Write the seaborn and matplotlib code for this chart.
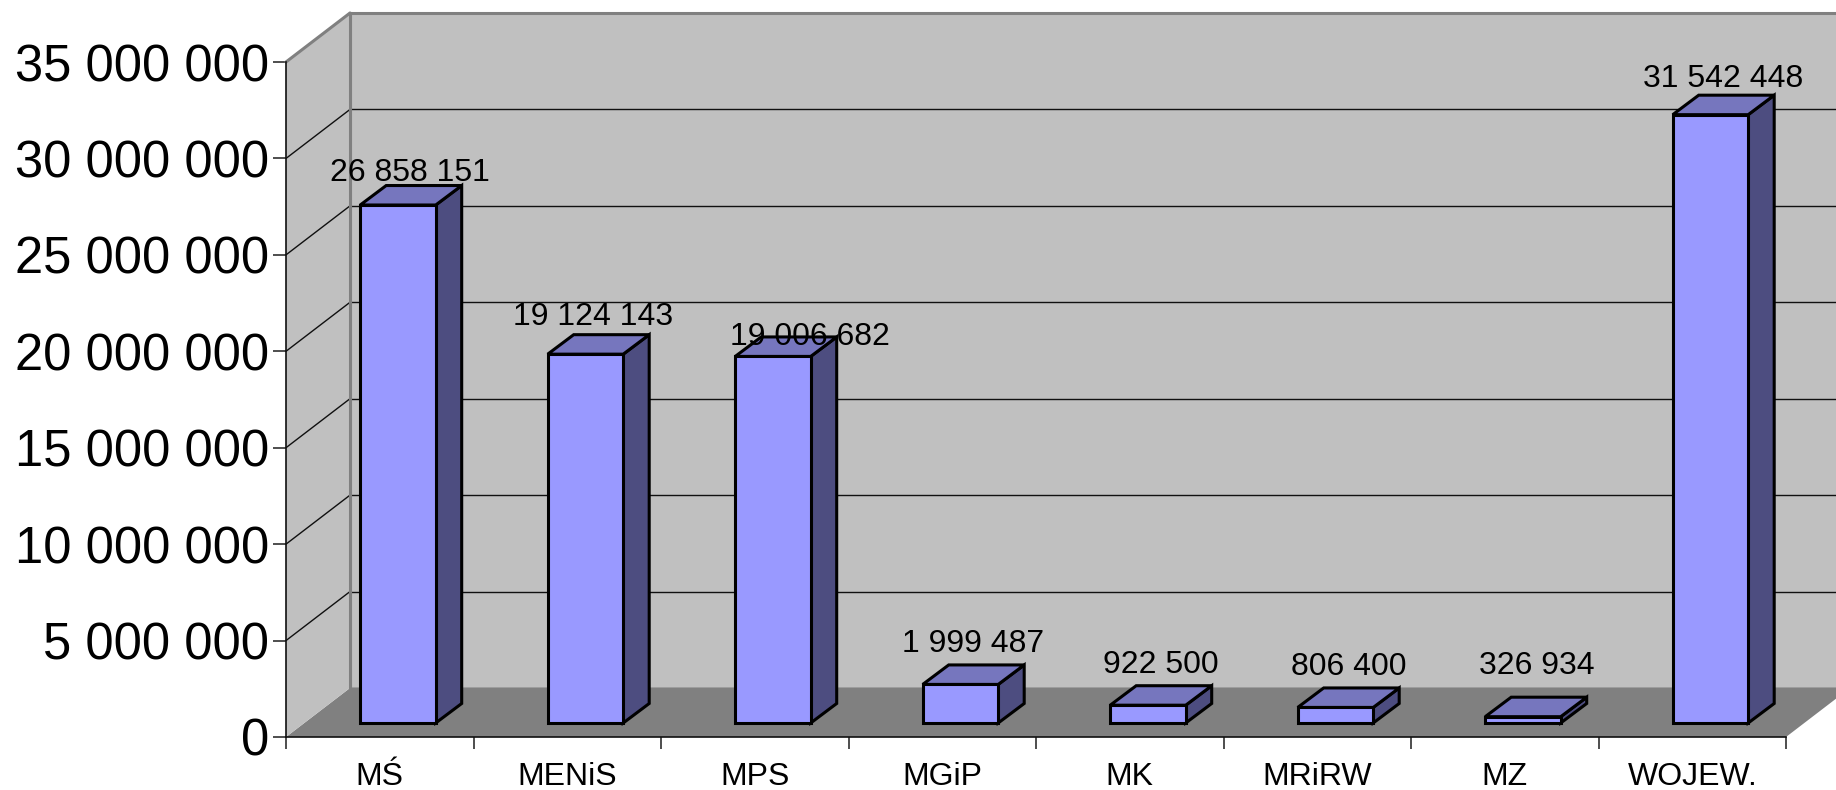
import matplotlib
matplotlib.use("Agg")
import matplotlib.pyplot as plt
import pandas as pd
import seaborn as sns
from matplotlib.patches import Polygon
from matplotlib.lines import Line2D
from matplotlib.ticker import FuncFormatter, MultipleLocator

categories = ["MŚ", "MENiS", "MPS", "MGiP", "MK", "MRiRW", "MZ", "WOJEW."]
values = [26858151, 19124143, 19006682, 1999487, 922500, 806400, 326934, 31542448]
y_max = 35000000
y_step = 5000000

# label nudges from the bar's top front edge, in pixels (x right, y up)
label_dx = [12, 8, 37, 13, 13, 13, 14, 13]
label_dy = [32, 37, 19, 40, 40, 40, 51, 36]

W, H = 1836, 790
LEFT, BOTTOM = 286, 737          # front corner of the chart box, image pixels
BOX_W, BOX_H = 1500, 675
DEPTH_X, DEPTH_Y = 64, 49        # whole box depth
BAR_X, BAR_Y = 18.2, 14          # where the bars stand inside the box
BAR_DX, BAR_DY = 26, 19.5        # bar depth
BAR_WIDTH = 75.5 / 187.5

sns.set_theme(style="white")
plt.rcParams["font.family"] = ["Liberation Sans", "DejaVu Sans"]

fmt = lambda v, pos=None: f"{int(v):,}".replace(",", " ")


def add_plane(dx, dy, z):
    """Axes for one depth plane of the fake 3D box."""
    ax = fig.add_axes([(LEFT + dx) / W, (H - BOTTOM + dy) / H, BOX_W / W, BOX_H / H], zorder=z)
    ax.set_xlim(-0.5, len(categories) - 0.5)
    ax.set_ylim(0, y_max)
    return ax


def poly(ax, pts, face, edge="none", lw=0, z=1):
    ax.add_patch(Polygon(pts, closed=True, facecolor=face, edgecolor=edge, linewidth=lw,
                         transform=None, clip_on=False, zorder=z, joinstyle="miter"))


fig = plt.figure(figsize=(W / 100, H / 100), dpi=100, facecolor="white")

# back wall, with the gridlines
back = add_plane(DEPTH_X, DEPTH_Y, 0)
back.set_facecolor("#C0C0C0")
back.yaxis.set_major_locator(MultipleLocator(y_step))
back.grid(axis="y", color="#101010", linewidth=1)
back.tick_params(left=False, bottom=False, labelleft=False, labelbottom=False)
for name, spine in back.spines.items():
    spine.set_visible(name in ("left", "top"))
    spine.set_color("#808080")
    spine.set_linewidth(2.2)

# front plane holds the real ticks, the side wall and the floor
front = add_plane(0, 0, 1)
front.patch.set_alpha(0)
x0, y0 = front.transData.transform((-0.5, 0))
x1, y1 = front.transData.transform((len(categories) - 0.5, y_max))
poly(front, [(x0, y0), (x1, y0), (x1 + DEPTH_X, y0 + DEPTH_Y), (x0 + DEPTH_X, y0 + DEPTH_Y)], "#808080")
poly(front, [(x0, y0), (x0 + DEPTH_X, y0 + DEPTH_Y), (x0 + DEPTH_X, y1 + DEPTH_Y), (x0, y1)], "#C0C0C0")
for tick in range(y_step, y_max + 1, y_step):
    _, ty = front.transData.transform((0, tick))
    is_top = tick == y_max
    front.add_line(Line2D([x0, x0 + DEPTH_X], [ty, ty + DEPTH_Y], transform=None, clip_on=False,
                          color="#808080" if is_top else "#101010", linewidth=2.2 if is_top else 1, zorder=2))
front.add_line(Line2D([x0 + DEPTH_X] * 2, [y0 + DEPTH_Y, y1 + DEPTH_Y], transform=None, clip_on=False,
                      color="#808080", linewidth=2.2, zorder=2))

front.yaxis.set_major_locator(MultipleLocator(y_step))
front.yaxis.set_major_formatter(FuncFormatter(fmt))
front.tick_params(axis="y", left=True, length=9.4, width=1.2, color="#303030", pad=3, labelsize=36.5, labelcolor="black")
front.set_xticks(range(len(categories)))
front.set_xticklabels(categories)
front.set_xticks([i - 0.5 for i in range(len(categories) + 1)], minor=True)
front.tick_params(axis="x", which="major", bottom=False, pad=12, labelsize=23, labelcolor="black")
front.tick_params(axis="x", which="minor", bottom=True, length=8.6, width=1.2, color="#303030")
for name, spine in front.spines.items():
    spine.set_visible(name in ("left", "bottom"))
    spine.set_color("#101010")
    spine.set_linewidth(1.2)

# bars
df = pd.DataFrame({"category": categories, "value": values})
bars = add_plane(BAR_X, BAR_Y, 2)
bars.patch.set_alpha(0)
sns.barplot(data=df, x="category", y="value", ax=bars, color="#9999FF", saturation=1,
            width=BAR_WIDTH, edgecolor="black", linewidth=2.2, zorder=3, clip_on=False)
bars.set_xlim(-0.5, len(categories) - 0.5)
bars.set_ylim(0, y_max)
bars.set_axis_off()

for i, v in enumerate(values):
    xl, yb = bars.transData.transform((i - BAR_WIDTH / 2, 0))
    xr, yt = bars.transData.transform((i + BAR_WIDTH / 2, v))
    poly(bars, [(xr, yb), (xr + BAR_DX, yb + BAR_DY), (xr + BAR_DX, yt + BAR_DY), (xr, yt)],
         "#4D4D80", "black", 2.2, z=2)
    poly(bars, [(xl, yt), (xr, yt), (xr + BAR_DX, yt + BAR_DY), (xl + BAR_DX, yt + BAR_DY)],
         "#7676BE", "black", 2.2, z=2)
    bars.annotate(fmt(v), xy=(i, v), xytext=(label_dx[i] / 100 * 72, label_dy[i] / 100 * 72),
                  textcoords="offset points", ha="center", va="center", fontsize=23, color="black",
                  zorder=5, annotation_clip=False)

fig.savefig("out.png", dpi=100)
